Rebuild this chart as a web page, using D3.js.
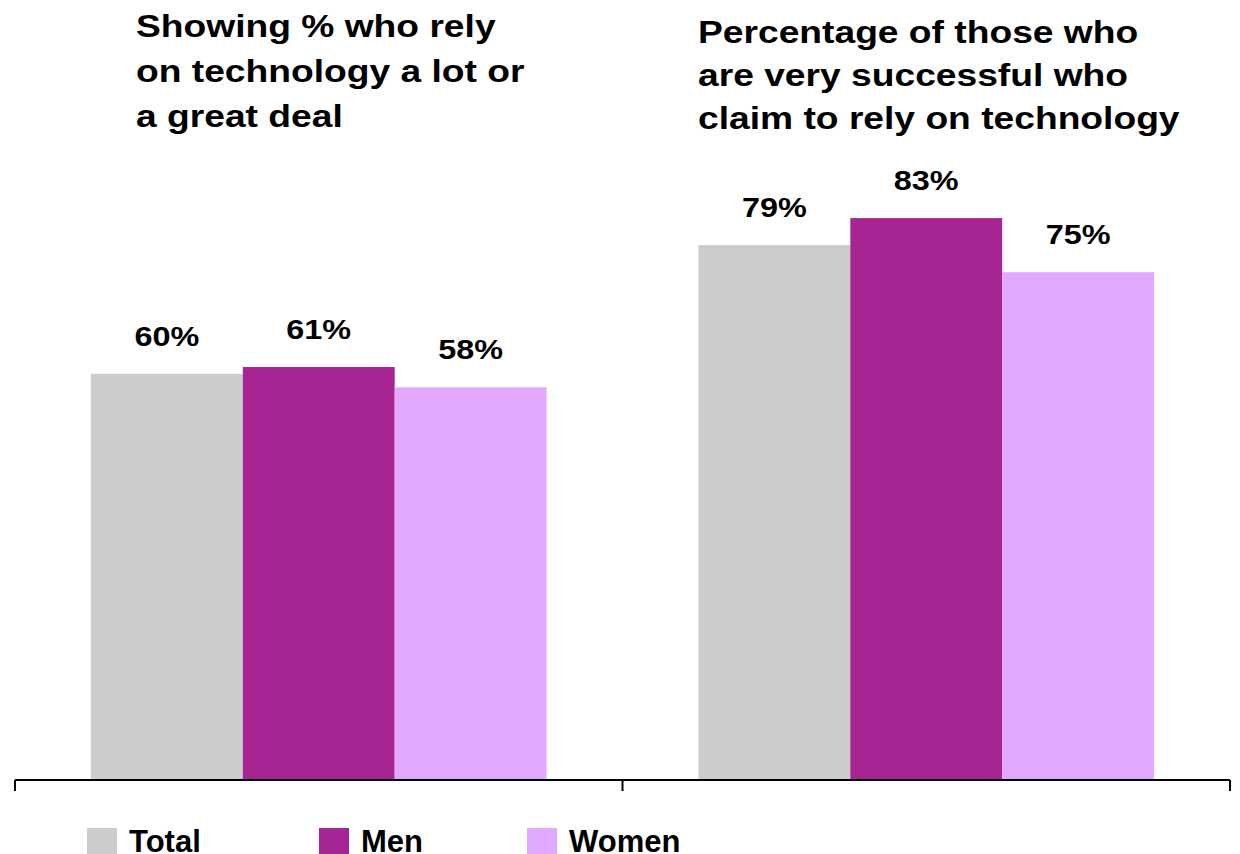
<!DOCTYPE html>
<html>
<head>
<meta charset="utf-8">
<script src="https://cdnjs.cloudflare.com/ajax/libs/d3/7.8.5/d3.min.js"></script>
<style>
  html, body { margin: 0; padding: 0; background: #fff; }
  svg { display: block; font-family: "Liberation Sans", Arial, sans-serif; }
</style>
</head>
<body>
<svg id="chart" width="1240" height="854"></svg>
<script>
// Chart data
const groups = ["rely", "successful"];
const series = ["Total", "Men", "Women"];
const totalValues = [60, 79];
const menValues = [61, 83];
const womenValues = [58, 75];
const groupTitles = [
  ["Showing % who rely", "on technology a lot or", "a great deal"],
  ["Percentage of those who", "are very successful who", "claim to rely on technology"]
];
const colors = ["#cccccc", "#a72493", "#e2a8fe"];

const valuesBySeries = [totalValues, menValues, womenValues];

const svg = d3.select("#chart");
const baseY = 780;
const stretch = 1.2; // wide lettering used for titles and value labels

const x0 = d3.scaleBand().domain(groups).range([15, 1230]).paddingInner(0).paddingOuter(0);
const x1 = d3.scaleBand().domain(series).range([0, x0.bandwidth()]).paddingInner(0).paddingOuter(0.5);
const y = d3.scaleLinear().domain([0, 100]).range([baseY, 103]);

// Bars and value labels
const g = svg.append("g");
groups.forEach((grp, gi) => {
  const gg = g.append("g").attr("transform", `translate(${x0(grp)},0)`);
  series.forEach((s, si) => {
    const v = valuesBySeries[si][gi];
    gg.append("rect")
      .attr("x", x1(s))
      .attr("y", y(v))
      .attr("width", x1.bandwidth())
      .attr("height", baseY - y(v))
      .attr("fill", colors[si]);
    gg.append("text")
      .attr("transform", `translate(${x1(s) + x1.bandwidth() / 2},${y(v) - 28}) scale(${stretch},1)`)
      .attr("text-anchor", "middle")
      .attr("font-size", 27)
      .attr("font-weight", "bold")
      .attr("fill", "#000")
      .text(v + "%");
  });
});

// Category axis with tick marks at group boundaries
const axisG = svg.append("g");
axisG.append("line")
  .attr("x1", x0.range()[0]).attr("x2", x0.range()[1])
  .attr("y1", baseY).attr("y2", baseY)
  .attr("stroke", "#000").attr("stroke-width", 2);
const boundaries = groups.map(d => x0(d)).concat([x0.range()[1]]);
axisG.selectAll("line.tick").data(boundaries).enter().append("line")
  .attr("class", "tick")
  .attr("x1", d => d).attr("x2", d => d)
  .attr("y1", baseY).attr("y2", baseY + 11)
  .attr("stroke", "#000").attr("stroke-width", 2);

// Group titles
const titleX = [136, 698];
const titleY = [37, 43];
const titleGap = [45, 43];
groupTitles.forEach((lines, i) => {
  lines.forEach((ln, j) => {
    svg.append("text")
      .attr("transform", `translate(${titleX[i]},${titleY[i] + j * titleGap[i]}) scale(${stretch},1)`)
      .attr("font-size", 31).attr("font-weight", "bold").attr("fill", "#000")
      .text(ln);
  });
});

// Legend
const legendX = [87, 319, 527];
const legend = svg.append("g");
series.forEach((s, i) => {
  legend.append("rect")
    .attr("x", legendX[i]).attr("y", 828)
    .attr("width", 30).attr("height", 30)
    .attr("fill", colors[i]);
  legend.append("text")
    .attr("x", legendX[i] + 42).attr("y", 852)
    .attr("font-size", 31).attr("font-weight", "bold").attr("fill", "#000")
    .text(s);
});
</script>
</body>
</html>
